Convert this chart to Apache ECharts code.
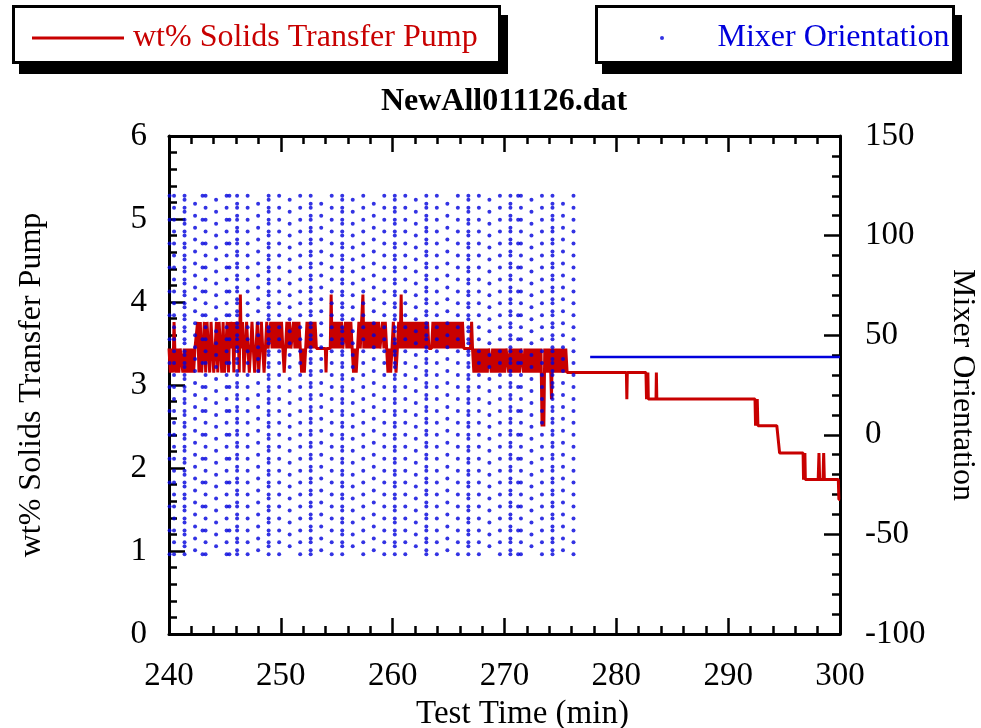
<!DOCTYPE html>
<html><head><meta charset="utf-8">
<script src="https://cdn.jsdelivr.net/npm/echarts@6/dist/echarts.min.js"></script>
<style>html,body{margin:0;padding:0;background:#fff}#c{width:981px;height:728px}</style>
</head><body><div id="c"></div>
<script>
// ---------------- data ----------------
const chartTitle = 'NewAll011126.dat';
const pumpName = 'wt% Solids Transfer Pump';
const mixerName = 'Mixer Orientation';
const xRange = [240, 300];
const pumpRange = [0, 6];
const mixerRange = [-100, 150];

// wt% Solids Transfer Pump: [time (min), wt%]
const pumpEarly = [
[240.00,3.44],[240.12,3.15],[240.24,3.44],[240.36,3.15],[240.45,3.76],[240.52,3.44],[240.64,3.15],[240.76,3.44],[240.88,3.15],[241.00,3.44],[241.12,3.44],[241.24,3.15],[241.36,3.44],[241.48,3.15],[241.60,3.44],[241.72,3.15],[241.84,3.44],[241.96,3.15],[242.08,3.44],[242.20,3.15],[242.32,3.44],[242.44,3.44],
[242.56,3.76],[242.68,3.15],[242.80,3.76],[242.92,3.15],[243.04,3.44],
[243.16,3.76],[243.28,3.15],[243.40,3.76],[243.52,3.44],[243.64,3.15],[243.76,3.76],[243.88,3.44],[244.00,3.15],[244.12,3.44],[244.24,3.76],[244.36,3.15],[244.48,3.76],[244.60,3.44],[244.72,3.15],[244.84,3.76],[244.96,3.15],[245.08,3.44],[245.20,3.76],[245.32,3.15],[245.44,3.76],[245.56,3.44],[245.68,3.76],[245.80,3.15],[245.92,3.76],[246.04,3.44],[246.16,3.76],[246.28,3.15],[246.38,4.09],[246.46,3.44],
[246.58,3.76],[246.70,3.15],[246.82,3.44],[246.94,3.76],[247.06,3.44],[247.18,3.15],[247.30,3.44],[247.42,3.76],[247.54,3.44],[247.66,3.15],[247.78,3.44],[247.90,3.76],[248.02,3.15],[248.14,3.44],[248.26,3.76],[248.38,3.44],[248.50,3.15],[248.62,3.44],[248.74,3.76],[248.86,3.44],[248.98,3.44],
[249.10,3.76],[249.22,3.44],[249.34,3.76],[249.46,3.44],[249.58,3.76],[249.70,3.44],[249.82,3.76],[249.94,3.44],[250.06,3.76],[250.18,3.44],[250.30,3.15],[250.42,3.44],[250.54,3.76],[250.66,3.44],[250.78,3.76],[250.90,3.44],[251.02,3.44],[251.14,3.76],[251.26,3.44],[251.38,3.76],[251.50,3.44],[251.62,3.76],[251.74,3.44],[251.86,3.15],[251.98,3.44],[252.10,3.15],[252.22,3.44],[252.34,3.76],[252.46,3.44],[252.58,3.76],[252.70,3.44],[252.82,3.76],[252.94,3.44],[253.06,3.76],[253.18,3.44],
[253.40,3.44],[253.70,3.44],[253.98,3.44],[254.04,3.15],[254.10,3.44],[254.42,3.44],[254.50,4.09],[254.58,3.44],
[254.70,3.76],[254.82,3.44],[254.94,3.76],[255.06,3.44],[255.18,3.76],[255.30,3.44],[255.42,3.76],[255.54,3.44],[255.66,3.44],[255.78,3.76],[255.90,3.44],[256.02,3.76],[256.14,3.44],[256.26,3.76],[256.38,3.44],[256.50,3.15],[256.62,3.44],[256.74,3.15],[256.86,3.44],[256.98,3.76],[257.10,3.44],[257.22,3.76],[257.34,4.09],[257.42,3.44],
[257.54,3.76],[257.66,3.44],[257.78,3.76],[257.90,3.44],[258.02,3.76],[258.14,3.44],[258.26,3.76],[258.38,3.44],[258.50,3.76],[258.62,3.44],[258.74,3.76],[258.86,3.44],[258.98,3.44],[259.10,3.76],[259.22,3.44],[259.34,3.76],[259.46,3.44],[259.58,3.15],[259.70,3.44],[259.82,3.15],[259.94,3.44],[260.06,3.76],[260.18,3.44],[260.30,3.15],[260.42,3.44],[260.54,3.76],[260.66,3.44],[260.76,4.09],[260.84,3.44],
[260.96,3.76],[261.08,3.44],[261.20,3.76],[261.32,3.44],[261.44,3.76],[261.56,3.44],[261.68,3.76],[261.80,3.44],[261.92,3.76],[262.04,3.44],[262.16,3.76],[262.28,3.44],[262.40,3.76],[262.52,3.44],[262.64,3.76],[262.76,3.44],[262.88,3.76],[263.00,3.44],[263.12,3.76],[263.24,3.44],[263.36,3.44],[263.48,3.44],[263.60,3.76],[263.72,3.44],[263.84,3.76],[263.96,3.44],[264.08,3.76],[264.20,3.44],[264.32,3.76],[264.44,3.44],[264.56,3.76],[264.68,3.44],[264.80,3.76],[264.92,3.44],[265.04,3.76],[265.16,3.44],[265.28,3.76],[265.40,3.44],[265.52,3.76],[265.64,3.44],[265.76,3.76],[265.88,3.44],[266.00,3.76],[266.12,3.44],[266.24,3.76],[266.36,3.44],[266.48,3.44],[266.96,3.44],[267.06,3.76],[267.14,3.44]
];
const pumpLate = [
[267.26,3.15],[267.38,3.44],[267.50,3.15],[267.62,3.44],[267.74,3.15],[267.86,3.44],[267.98,3.15],[268.10,3.44],[268.22,3.15],[268.34,3.44],[268.46,3.15],[268.58,3.44],[268.70,3.44],[268.82,3.15],[268.94,3.44],[269.06,3.15],[269.18,3.44],[269.30,3.15],[269.42,3.44],[269.54,3.15],[269.66,3.44],[269.78,3.15],[269.90,3.44],[270.02,3.15],[270.14,3.44],[270.26,3.44],[270.38,3.15],[270.50,3.44],[270.62,3.15],[270.74,3.44],[270.86,3.15],[270.98,3.44],[271.10,3.15],[271.22,3.44],[271.34,3.15],[271.46,3.44],[271.58,3.44],[271.70,3.15],[271.82,3.44],[271.94,3.15],[272.06,3.44],[272.18,3.15],[272.30,3.44],[272.42,3.15],[272.54,3.44],[272.66,3.15],[272.78,3.44],[272.90,3.15],[273.02,3.44],[273.14,3.15],[273.26,3.44],[273.36,2.50],[273.44,3.15],[273.52,2.50],[273.60,3.44],[273.72,3.15],[273.84,3.44],[273.96,3.15],[274.08,3.44],[274.20,2.83],[274.28,3.44],[274.40,3.15],[274.52,3.44],[274.64,3.15],[274.76,3.44],[274.88,3.15],[275.00,3.44],[275.12,3.15],[275.24,3.44],[275.36,3.15],[275.48,3.44],[275.60,3.15]
];
const pumpTail = [
[280.90,3.15],[280.94,2.83],[280.98,3.15],[282.65,3.15],[282.70,2.83],[282.74,3.15],[282.78,2.83],[282.82,3.15],[282.86,2.83],[283.55,2.83],[283.58,3.15],[283.62,2.83],
[292.40,2.83],[292.45,2.51],[292.50,2.83],[292.55,2.51],[292.60,2.83],[292.66,2.51],[294.35,2.51],[294.60,2.18],
[296.70,2.18],[296.74,1.86],[296.78,2.18],[296.82,1.86],[296.86,2.18],[296.90,1.86],[298.05,1.86],[298.12,2.18],[298.18,1.86],[298.48,1.86],[298.54,2.18],[298.60,1.86],[299.85,1.86],[299.90,1.62],[300.00,1.62]
];

// Mixer Orientation (deg): sample columns (time, min) and the angle sets seen in each column
const mixerColTime = [240.05,240.45,241.39,242.33,243.0,243.27,244.21,245.15,245.4,246.09,247.03,247.97,248.91,249.85,250.79,251.73,252.67,253.61,254.55,255.49,256.43,257.37,258.31,259.25,260.19,261.13,262.07,263.01,263.95,264.89,265.83,266.77,267.71,268.65,269.59,270.53,271.22,271.47,272.41,273.35,274.29,275.23,276.17];
const mixerColSet = ['D','A','AC','B','D','A','C','A','D','AB','A','B','AC','A','C','A','AB','B','A','AC','C','A','B','A','AC','A','C','AB','A','B','A','AC','A','C','A','AB','D','A','C','A','AB','B','A'];
const mixerAnglesA = [-60,-54,-48,-42,-36,-30,-24,-18,-12,-6,0,6,12,18,24,30,36,42,48,54,60,66,72,78,84,90,96,102,108,114,120];
const mixerAnglesB = [-58,-52,-46,-40,-34,-28,-22,-16,-10,-4,2,8,14,20,26,32,38,44,50,56,62,68,74,80,86,92,98,104,110,116];
const mixerAnglesC = [-56,-50,-44,-38,-32,-26,-20,-14,-8,-2,4,10,16,22,28,34,40,46,52,58,64,70,76,82,88,94,100,106,112,118];
const mixerAnglesD = [-60,-48,-36,-24,-12,0,12,24,36,48,60,72,84,96,108,120];
// Mixer held fixed afterwards
const mixerHeld = [[277.66,39],[300.00,39]];

// ---------------- build ----------------
const angleSets = {A: mixerAnglesA, B: mixerAnglesB, C: mixerAnglesC, D: mixerAnglesD};
const mixerPoints = [];
for (let i = 0; i < Math.min(mixerColTime.length, mixerColSet.length); i++) {
  for (const key of mixerColSet[i]) {
    for (const a of angleSets[key]) mixerPoints.push([mixerColTime[i], a]);
  }
}
const pumpData = pumpEarly.concat(pumpLate, pumpTail);

const FONT = '"Liberation Serif", "Times New Roman", serif';
const RED = '#c80000', BLUE = '#0000dc';

const axisCommon = {
  axisLine: {show: true, onZero: false, lineStyle: {color: '#000', width: 3}},
  axisTick: {show: true, inside: true, length: 16, lineStyle: {color: '#000', width: 2.5}},
  minorTick: {show: true, splitNumber: 5, length: 8, lineStyle: {color: '#000', width: 2.5}},
  splitLine: {show: false},
  axisLabel: {fontFamily: FONT, fontSize: 33, color: '#000'}
};

// legend frames (decoration: framed boxes with a hard drop shadow)
function legendFrame(x, y, w, h) {
  return [
    {type: 'rect', silent: true, z: 0, shape: {x: x + 7, y: y + 10, width: w, height: h}, style: {fill: '#000'}},
    {type: 'rect', silent: true, z: 1, shape: {x: x + 1.5, y: y + 1.5, width: w - 3, height: h - 3}, style: {fill: '#fff', stroke: '#000', lineWidth: 3}}
  ];
}

const chart = echarts.init(document.getElementById('c'), null, {renderer: 'canvas'});
chart.setOption({
  animation: false,
  backgroundColor: '#fff',
  graphic: {elements: legendFrame(12, 5, 489, 59).concat(legendFrame(595, 5, 360, 59))},
  title: {
    text: chartTitle, left: 504, top: 86, textAlign: 'center', padding: 0,
    textStyle: {fontFamily: FONT, fontSize: 32, fontWeight: 'bold', color: '#000'}
  },
  legend: [
    {
      data: [{name: pumpName, icon: 'rect', textStyle: {color: RED}}],
      selectedMode: false, left: 32, top: 22, orient: 'horizontal', z: 5,
      padding: 0, itemWidth: 92, itemHeight: 3,
      textStyle: {fontFamily: FONT, fontSize: 32, padding: [0, 0, 0, 4]}
    },
    {
      data: [{name: mixerName, icon: 'circle', textStyle: {color: BLUE}}],
      selectedMode: false, left: 660, top: 22, orient: 'horizontal', z: 5,
      padding: 0, itemWidth: 101, itemHeight: 4,
      textStyle: {fontFamily: FONT, fontSize: 32}
    }
  ],
  grid: {left: 169, right: 141, top: 136, bottom: 94, containLabel: false, outerBoundsMode: 'none'},
  xAxis: [
    Object.assign({}, axisCommon, {
      type: 'value', position: 'bottom', min: xRange[0], max: xRange[1], interval: 10,
      axisLabel: Object.assign({}, axisCommon.axisLabel, {margin: 26}),
      name: 'Test Time (min)', nameLocation: 'middle', nameGap: 49,
      nameTextStyle: {fontFamily: FONT, fontSize: 33, color: '#000', padding: [0, 0, 0, 36]}
    }),
    Object.assign({}, axisCommon, {
      type: 'value', position: 'top', min: xRange[0], max: xRange[1], interval: 10,
      axisLabel: {show: false}
    })
  ],
  yAxis: [
    Object.assign({}, axisCommon, {
      type: 'value', position: 'left', min: pumpRange[0], max: pumpRange[1], interval: 1,
      axisLabel: Object.assign({}, axisCommon.axisLabel, {margin: 22}),
      name: pumpName, nameLocation: 'middle', nameGap: 121, nameRotate: 90,
      nameTextStyle: {fontFamily: FONT, fontSize: 32, color: '#000'}
    }),
    Object.assign({}, axisCommon, {
      type: 'value', position: 'right', min: mixerRange[0], max: mixerRange[1], interval: 50,
      axisLabel: Object.assign({}, axisCommon.axisLabel, {margin: 25}),
      name: mixerName, nameLocation: 'middle', nameGap: 106, nameRotate: -90,
      nameTextStyle: {fontFamily: FONT, fontSize: 32, color: '#000'}
    })
  ],
  series: [
    {
      name: pumpName, type: 'line', xAxisIndex: 0, yAxisIndex: 0, data: pumpData,
      showSymbol: false, symbol: 'none', color: RED,
      lineStyle: {color: RED, width: 3}, z: 2
    },
    {
      name: mixerName, type: 'scatter', xAxisIndex: 0, yAxisIndex: 1, data: mixerPoints,
      symbol: 'circle', symbolSize: 4, color: BLUE, itemStyle: {color: BLUE}, z: 3
    },
    {
      name: mixerName, type: 'line', xAxisIndex: 0, yAxisIndex: 1, data: mixerHeld,
      showSymbol: false, symbol: 'none', color: BLUE,
      lineStyle: {color: BLUE, width: 2.5}, z: 3
    }
  ]
});
</script></body></html>
